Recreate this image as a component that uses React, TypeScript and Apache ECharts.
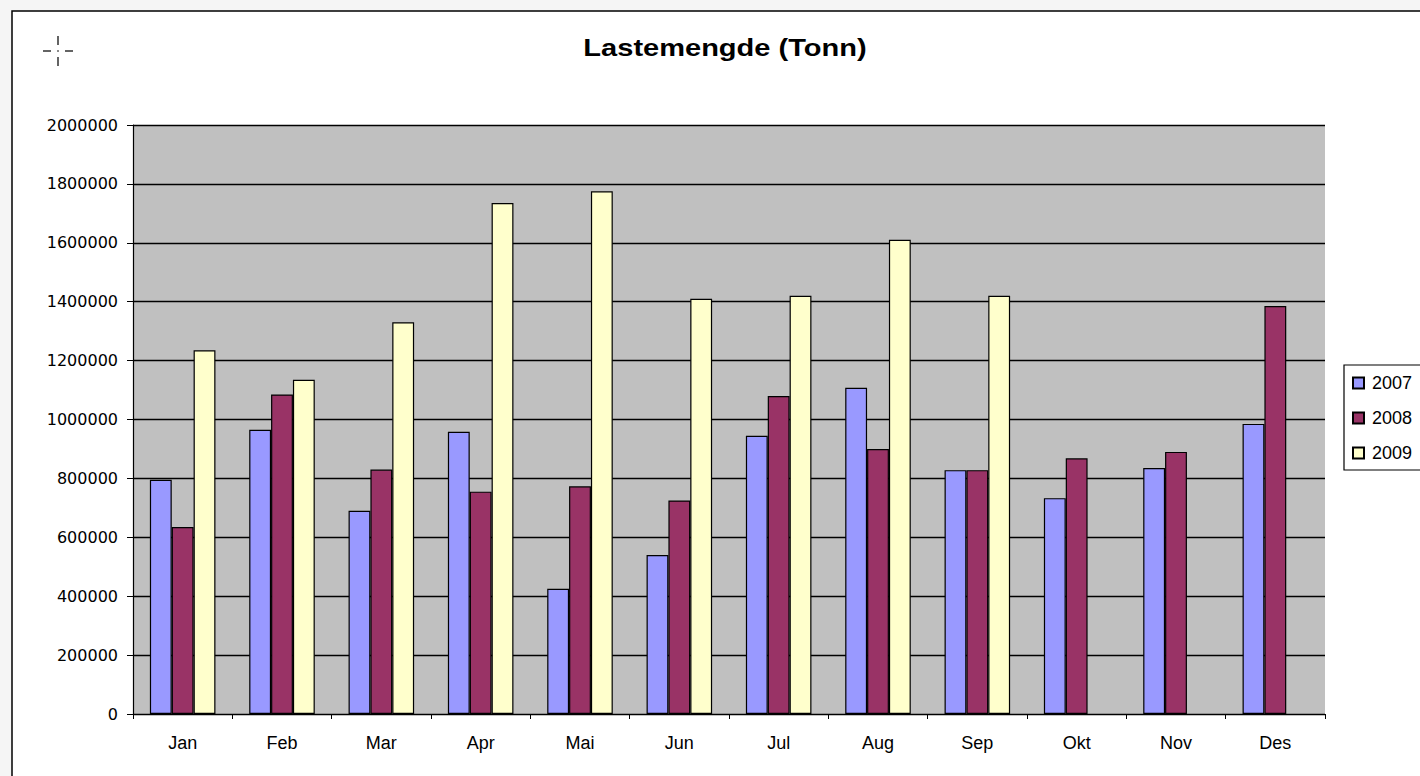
import React, { useEffect, useRef } from "react";
import * as echarts from "echarts";

const months = ["Jan", "Feb", "Mar", "Apr", "Mai", "Jun", "Jul", "Aug", "Sep", "Okt", "Nov", "Des"];
const seriesNames = ["2007", "2008", "2009"];
const values2007 = [795000, 965000, 690000, 958000, 425000, 540000, 945000, 1108000, 828000, 733000, 835000, 985000];
const values2008 = [635000, 1085000, 830000, 755000, 773000, 725000, 1080000, 900000, 828000, 868000, 890000, 1385000];
const values2009 = [1235000, 1135000, 1330000, 1735000, 1775000, 1410000, 1420000, 1610000, 1420000, null, null, null];
const colors = ["#9999FF", "#993366", "#FFFFCC"];
const titleText = "Lastemengde (Tonn)";

export default function App() {
  const ref = useRef<HTMLDivElement>(null);
  useEffect(() => {
    if (!ref.current) return;
    const chart = echarts.init(ref.current, null, { renderer: "svg" });
    const data = [values2007, values2008, values2009];
    const font = "Liberation Sans, Arial, sans-serif";
    chart.setOption({
      animation: false,
      backgroundColor: "#f5f5f5",
      textStyle: { fontFamily: font },
      graphic: [
        { type: "rect", shape: { x: 12, y: 11, width: 1420, height: 780 }, style: { fill: "#ffffff", stroke: "#000", lineWidth: 1.5 }, z: -10 },
        {
          type: "text",
          x: 725,
          y: 48,
          scaleX: 1.21,
          style: { text: titleText, fontSize: 24, fontWeight: "bold", fill: "#000", font: `bold 24px ${font}`, align: "center", verticalAlign: "middle" },
        },
        { type: "line", shape: { x1: 58, y1: 36, x2: 58, y2: 45 }, style: { stroke: "#222", lineWidth: 1.4 } },
        { type: "line", shape: { x1: 58, y1: 57, x2: 58, y2: 66 }, style: { stroke: "#222", lineWidth: 1.4 } },
        { type: "line", shape: { x1: 43, y1: 51, x2: 51, y2: 51 }, style: { stroke: "#222", lineWidth: 1.4 } },
        { type: "line", shape: { x1: 65, y1: 51, x2: 73, y2: 51 }, style: { stroke: "#222", lineWidth: 1.4 } },
        { type: "rect", shape: { x: 57.3, y: 50.3, width: 1.4, height: 1.4 }, style: { fill: "#222" } },
      ],
      legend: {
        orient: "vertical",
        left: 1344,
        top: 365,
        data: seriesNames,
        padding: [9, 40, 8, 8],
        itemGap: 17,
        itemWidth: 11,
        itemHeight: 11,
        borderColor: "#000",
        borderWidth: 1.2,
        borderRadius: 0,
        backgroundColor: "#fff",
        icon: "rect",
        textStyle: { fontSize: 18, color: "#000", padding: [0, 0, 0, 3] },
      },
      grid: { left: 133, right: 95, top: 125, bottom: 62, show: true, backgroundColor: "#c0c0c0", borderWidth: 0 },
      xAxis: {
        type: "category",
        data: months,
        axisLine: { lineStyle: { color: "#000", width: 1.2 } },
        axisTick: { show: true, alignWithLabel: false, length: 5, lineStyle: { color: "#000" } },
        axisLabel: { color: "#000", fontSize: 18, margin: 20 },
      },
      yAxis: {
        type: "value",
        min: 0,
        max: 2000000,
        interval: 200000,
        axisLine: { show: true, lineStyle: { color: "#000", width: 1.2 } },
        axisTick: { show: true, length: 6, lineStyle: { color: "#000" } },
        axisLabel: { color: "#000", fontSize: 16, fontFamily: "DejaVu Sans, sans-serif", margin: 15, formatter: (v: number) => String(v) },
        splitLine: { lineStyle: { color: "#000", width: 1.3 } },
      },
      series: seriesNames.map((name, i) => ({
        name,
        type: "bar",
        data: data[i],
        barGap: "0%",
        barCategoryGap: "34%",
        itemStyle: { color: colors[i], borderColor: "#000", borderWidth: 1.2 },
      })),
    });
    return () => chart.dispose();
  }, []);
  return <div ref={ref} style={{ position: "fixed", left: 0, top: 0, width: 1420, height: 776 }} />;
}
